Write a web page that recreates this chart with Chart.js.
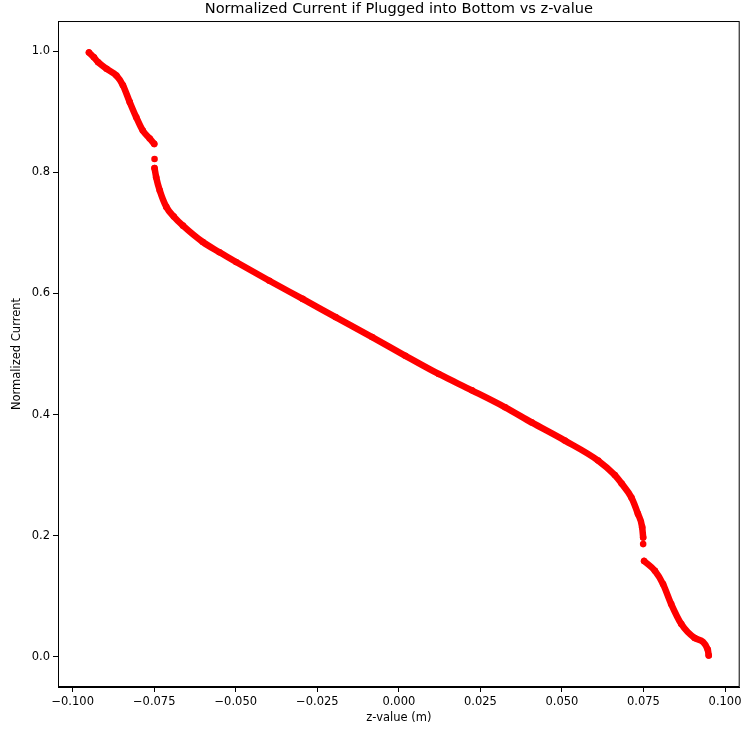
<!DOCTYPE html>
<html>
<head>
<meta charset="utf-8">
<title>Normalized Current vs z-value</title>
<script src="https://cdn.jsdelivr.net/npm/chart.js@4/dist/chart.umd.min.js"></script>
<style>
  html, body { margin: 0; padding: 0; background: #fff; }
  #wrap { width: 743px; height: 732px; }
</style>
</head>
<body>
<div id="wrap"><canvas id="chart-current"></canvas></div>
<script>
// z position (m) of each sample, left to right
const zValues = [
  -0.0950, -0.0935, -0.0922, -0.0896, -0.0866, -0.0846, -0.0825, -0.0805, -0.0785, -0.0764, -0.0750,
  -0.0750,
  -0.0749,
  -0.0749,
  -0.0749, -0.0744, -0.0733, -0.0713, -0.0690, -0.0662, -0.0601, -0.0550, -0.0499, -0.0397, -0.0295,
  -0.0194, -0.0082, 0.0020, 0.0122, 0.0224, 0.0326, 0.0407, 0.0509, 0.0611, 0.0662, 0.0683, 0.0713,
  0.0733, 0.0746, 0.0749,
  0.0749,
  0.0749,
  0.0750,
  0.0752, 0.0785, 0.0810, 0.0835, 0.0866, 0.0907, 0.0947, 0.0950,
];

// normalized current at each z; null splits the curve where the sensor jumps
const currentValues = [
  0.998, 0.990, 0.982, 0.971, 0.960, 0.944, 0.916, 0.891, 0.869, 0.856, 0.847,
  null,
  0.822,
  null,
  0.807, 0.792, 0.770, 0.743, 0.727, 0.712, 0.685, 0.668, 0.652, 0.621, 0.591,
  0.561, 0.528, 0.497, 0.467, 0.440, 0.412, 0.387, 0.357, 0.324, 0.300, 0.286, 0.263,
  0.236, 0.214, 0.197,
  null,
  0.186,
  null,
  0.158, 0.142, 0.120, 0.087, 0.054, 0.031, 0.012, 0.002,
];

const xTickStep = 0.025;
const yTickStep = 0.2;

const points = zValues.map((z, i) => ({ x: z, y: currentValues[i] }));

const fontFamily = `'DejaVu Sans', sans-serif`;

// matplotlib style box: top and right spines
const frame = {
  id: `frame`,
  afterDraw(chart) {
    const { ctx, chartArea: a } = chart;
    ctx.save();
    ctx.strokeStyle = `#000`;
    ctx.lineWidth = 1;
    ctx.strokeRect(a.left + 0.5, a.top + 0.5, a.right - a.left - 1, a.bottom - a.top - 1);
    ctx.restore();
  }
};

function minusLabel(v, digits) {
  if (Math.abs(v) < 1e-9) return (0).toFixed(digits);
  return (v < 0 ? `\u2212` : ``) + Math.abs(v).toFixed(digits);
}

const ctx = document.getElementById(`chart-current`);
const chartCurrent = new Chart(ctx, {
  type: `scatter`,
  data: {
    datasets: [{
      label: `Normalized Current`,
      data: points,
      showLine: true,
      borderColor: `#ff0000`,
      borderWidth: 6.5,
      borderCapStyle: `round`,
      borderJoinStyle: `round`,
      cubicInterpolationMode: `monotone`,
      pointRadius: 3.3,
      pointBorderWidth: 0,
      pointBackgroundColor: `#ff0000`,
      pointHoverRadius: 3.3,
    }]
  },
  options: {
    responsive: true,
    maintainAspectRatio: false,
    animation: false,
    layout: {
      padding: { left: 0, right: 1, top: 0, bottom: 0 }
    },
    plugins: {
      legend: { display: false },
      tooltip: { enabled: false },
      title: {
        display: true,
        fullSize: false,
        text: `Normalized Current if Plugged into Bottom vs z-value`,
        color: `#000`,
        font: { family: fontFamily, size: 14.6, weight: `normal` },
        padding: { top: 0, bottom: 3.5 },
      }
    },
    scales: {
      x: {
        type: `linear`,
        min: -0.1045,
        max: 0.1045,
        afterFit(s) {
          s.height = 45;
          s.paddingLeft = 0;
          s.paddingRight = 0;
        },
        border: { display: true, color: `#000`, width: 1 },
        grid: { drawOnChartArea: false, drawTicks: true, tickLength: 5, tickColor: `#000` },
        ticks: {
          stepSize: xTickStep,
          includeBounds: false,
          padding: 3,
          color: `#000`,
          maxRotation: 0,
          autoSkip: false,
          font: { family: fontFamily, size: 11.5 },
          callback: (v) => minusLabel(v, 3),
        },
        title: {
          display: true,
          text: `z-value (m)`,
          color: `#000`,
          font: { family: fontFamily, size: 11.5 },
          padding: { top: 0, bottom: 7.1 },
        }
      },
      y: {
        type: `linear`,
        min: -0.05,
        max: 1.05,
        afterFit(s) {
          s.width = 58;
          s.paddingTop = 0;
          s.paddingBottom = 0;
        },
        border: { display: true, color: `#000`, width: 1 },
        grid: { drawOnChartArea: false, drawTicks: true, tickLength: 5, tickColor: `#000` },
        ticks: {
          stepSize: yTickStep,
          includeBounds: false,
          padding: 3,
          color: `#000`,
          font: { family: fontFamily, size: 11.5 },
          callback: (v) => minusLabel(v, 1),
        },
        title: {
          display: true,
          text: `Normalized Current`,
          color: `#000`,
          font: { family: fontFamily, size: 11.5 },
          padding: { top: 10.1, bottom: 0 },
        }
      }
    }
  },
  plugins: [frame]
});
</script>
</body>
</html>
